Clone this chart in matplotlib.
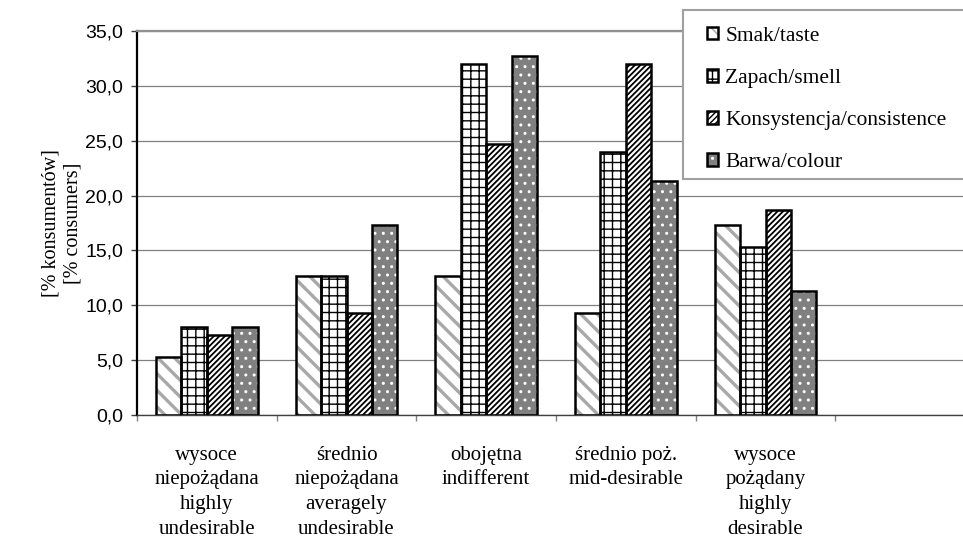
import numpy as np
import matplotlib
matplotlib.use('Agg')
import matplotlib.pyplot as plt
from matplotlib.patches import Patch, Rectangle
from matplotlib.ticker import FuncFormatter, MultipleLocator, FixedLocator

# dane [% konsumentów]
categories = ['wysoce\nniepożądana\nhighly\nundesirable',
              'średnio\nniepożądana\naveragely\nundesirable',
              'obojętna\nindifferent',
              'średnio poż.\nmid-desirable',
              'wysoce\npożądany\nhighly\ndesirable',
              '']
series_names = ['Smak/taste', 'Zapach/smell', 'Konsystencja/consistence', 'Barwa/colour']
smak = [5.3, 12.7, 12.7, 9.3, 17.3]
zapach = [8.0, 12.7, 32.0, 24.0, 15.3]
konsystencja = [7.3, 9.3, 24.7, 32.0, 18.7]
barwa = [8.0, 17.3, 32.7, 21.3, 11.3]
y_ticks = [0, 5, 10, 15, 20, 25, 30, 35]

series = [smak, zapach, konsystencja, barwa]
# (wypełnienie, kreskowanie, kolor kreskowania, grubość kreskowania)
styles = [
    ('white', '\\\\', '#a8a8a8', 2.4),
    ('white', '++', 'black', 1.0),
    ('white', '//////', 'black', 1.3),
    ('#808080', '..', 'white', 1.0),
]

W, H = 963, 539
fig = plt.figure(figsize=(W / 100, H / 100), dpi=100)
ax = fig.add_axes([137 / W, (H - 415) / H, (975 - 137) / W, 384 / H])

x = np.arange(len(categories))
bar_w = 0.1825

for i, (vals, (face, hatch, hcol, hlw)) in enumerate(zip(series, styles)):
    xpos = x[:len(vals)] + (i - 1.5) * bar_w
    with plt.rc_context({'hatch.linewidth': hlw}):
        bars = ax.bar(xpos, vals, bar_w, color=face, edgecolor=hcol, hatch=hatch,
                      linewidth=0, zorder=2)
    for p in bars:
        if hasattr(p, 'set_hatch_linewidth'):
            p.set_hatch_linewidth(hlw)
    ax.bar(xpos, vals, bar_w, facecolor='none', edgecolor='black', linewidth=1.8, zorder=3)

ax.set_xlim(-0.5, len(categories) - 0.5)
ax.set_ylim(0, 35)
ax.yaxis.set_major_locator(FixedLocator(y_ticks))
ax.yaxis.set_major_formatter(FuncFormatter(lambda v, _: f'{v:.1f}'.replace('.', ',')))
ax.yaxis.grid(True, color='#808080', linewidth=0.9, zorder=0)
ax.set_axisbelow(True)

ax.set_xticks(x)
ax.set_xticklabels(categories, fontfamily='Liberation Serif', fontsize=15, linespacing=1.42)
ax.xaxis.set_minor_locator(MultipleLocator(1, offset=0.5))
ax.tick_params(axis='x', which='major', length=0, pad=22)
ax.tick_params(axis='x', which='minor', length=4, color='#808080', width=1)
ax.tick_params(axis='y', length=4, color='#404040', width=1, pad=6, labelsize=14)
for lab in ax.get_yticklabels():
    lab.set_fontfamily('Liberation Sans')

ax.spines['left'].set_linewidth(1.6)
ax.spines['left'].set_color('black')
ax.spines['bottom'].set_linewidth(1.0)
ax.spines['bottom'].set_color('#404040')
ax.spines['top'].set_linewidth(1.6)
ax.spines['top'].set_color('#909090')
ax.spines['right'].set_visible(False)

ax.set_ylabel('[% konsumentów]\n[% consumers]', fontfamily='Liberation Serif',
              fontsize=14.5, labelpad=2, linespacing=1.2)

# ramka legendy (wychodzi poza prawą krawędź)
fig.patches.append(Rectangle((683 / W, 1 - 179 / H), 300 / W, 169 / H,
                             transform=fig.transFigure, facecolor='white',
                             edgecolor='#a0a0a0', linewidth=1.5, zorder=5))

handles = []
for face, hatch, hcol, hlw in styles:
    h1 = Patch(facecolor=face, edgecolor=hcol, hatch=hatch, linewidth=0)
    h2 = Patch(facecolor='none', edgecolor='black', linewidth=1.8)
    handles.append((h1, h2))

leg = fig.legend(handles, series_names, loc='upper left',
                 bbox_to_anchor=(707 / W, 1 - 27 / H),
                 borderaxespad=0, borderpad=0, labelspacing=1.07,
                 handlelength=0.5, handleheight=0.5, handletextpad=0.35,
                 prop={'family': 'Liberation Serif', 'size': 15.5},
                 frameon=False)
leg.set_zorder(6)

fig.savefig('out.png', dpi=100)
